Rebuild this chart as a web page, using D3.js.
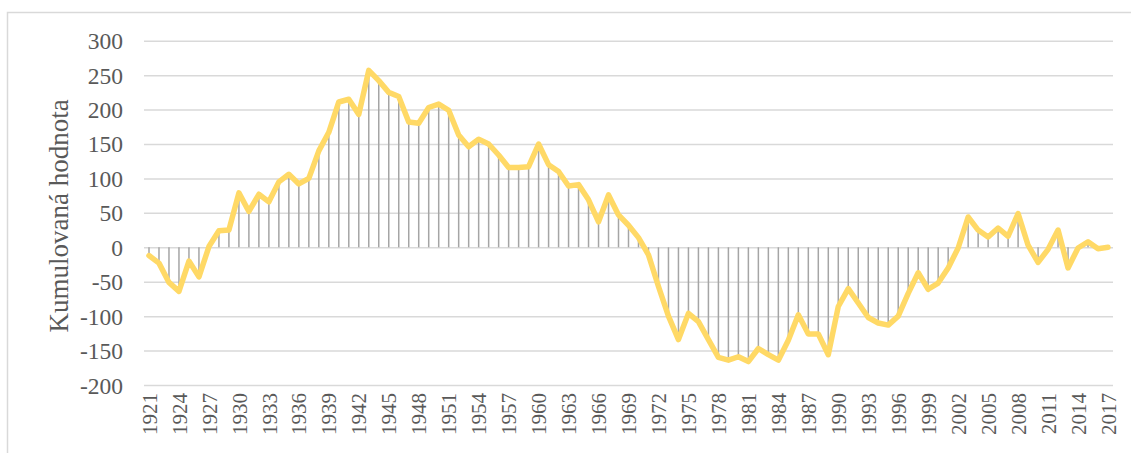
<!DOCTYPE html>
<html>
<head>
<meta charset="utf-8">
<script src="https://cdn.jsdelivr.net/npm/d3@7"></script>
<style>
  body { margin: 0; background: #fff; }
  text { font-family: "Liberation Serif", "Times New Roman", serif; fill: #595959; }
</style>
</head>
<body>
<div id="chart"></div>
<script>
// years on the category axis
var years = d3.range(1921, 2018);

// cumulative value per year
var values = [
  -12, -23, -51, -64, -20, -43, 1, 24, 25, 79,
  52, 77, 66, 95, 106, 92, 100, 140, 167, 211,
  215, 193, 257, 242, 225, 219, 182, 180, 203, 208,
  199, 163, 146, 157, 150, 134, 116, 116, 117, 150,
  120, 110, 89, 91, 69, 37, 76, 47, 32, 14,
  -11, -57, -100, -134, -96, -108, -134, -160, -164, -159,
  -166, -147, -156, -164, -135, -98, -126, -126, -156, -86,
  -60, -81, -102, -110, -113, -100, -67, -37, -61, -52,
  -30, -1, 44, 25, 15, 28, 16, 49, 3, -22,
  -3, 25, -30, -1, 8, -2, 0
];

// labelled years (every third category)
var tickYears = [1921, 1924, 1927, 1930, 1933, 1936, 1939, 1942, 1945, 1948, 1951,
  1954, 1957, 1960, 1963, 1966, 1969, 1972, 1975, 1978, 1981, 1984, 1987, 1990,
  1993, 1996, 1999, 2002, 2005, 2008, 2011, 2014, 2017];

var yTicks = [-200, -150, -100, -50, 0, 50, 100, 150, 200, 250, 300];

var data = years.map(function(d, i) { return {year: d, value: values[i]}; });

var W = 1131, H = 453;
var plot = {left: 144, right: 1113, top: 40.7, bottom: 385};

var svg = d3.select("#chart").append("svg")
    .attr("width", W)
    .attr("height", H);

svg.append("rect").attr("width", W).attr("height", H).attr("fill", "#fff");

// chart area border (only left and top edges are visible)
svg.append("rect")
    .attr("x", 7.5).attr("y", 12.5)
    .attr("width", W + 20).attr("height", H + 20)
    .attr("fill", "none")
    .attr("stroke", "#D9D9D9")
    .attr("stroke-width", 1.5);

var x = d3.scaleBand().domain(years).range([plot.left, plot.right]);
var y = d3.scaleLinear().domain([-200, 300]).range([plot.bottom, plot.top]);

function cx(d) { return x(d) + x.bandwidth() / 2; }

// horizontal gridlines
svg.append("g")
    .attr("transform", "translate(" + plot.left + ",0)")
    .call(d3.axisLeft(y).tickValues(yTicks).tickSize(-(plot.right - plot.left)).tickFormat(""))
    .call(function(g) { g.select(".domain").remove(); })
    .selectAll("line")
    .attr("stroke", "#D9D9D9")
    .attr("stroke-width", 1.5);

// y labels (plain hyphen for negatives, like the original)
svg.append("g")
    .attr("transform", "translate(123,0)")
    .call(d3.axisLeft(y).tickValues(yTicks).tickSize(0).tickPadding(0)
      .tickFormat(function(d) { return String(d); }))
    .call(function(g) { g.select(".domain").remove(); })
    .selectAll("text")
    .style("font-size", "23.5px")
    .attr("dy", "0.34em")
    .style("font-family", "'Liberation Serif', 'Times New Roman', serif")
    .style("fill", "#595959");

// x labels, rotated
svg.append("g").selectAll("text")
    .data(tickYears)
  .enter().append("text")
    .attr("transform", function(d) { return "translate(" + (cx(d) + 0.5) + ",393) rotate(-90)"; })
    .attr("text-anchor", "end")
    .attr("dy", "0.34em")
    .style("font-size", "21px")
    .text(function(d) { return d; });

// drop lines
svg.append("g").selectAll("line")
    .data(data)
  .enter().append("line")
    .attr("x1", function(d) { return cx(d.year); })
    .attr("x2", function(d) { return cx(d.year); })
    .attr("y1", y(0))
    .attr("y2", function(d) { return y(d.value); })
    .attr("stroke", "#A5A5A5")
    .attr("stroke-width", 1.5);

// main line
var line = d3.line()
    .x(function(d) { return cx(d.year); })
    .y(function(d) { return y(d.value); });

svg.append("path")
    .datum(data)
    .attr("fill", "none")
    .attr("stroke", "#FFD966")
    .attr("stroke-width", 5.5)
    .attr("stroke-linejoin", "round")
    .attr("stroke-linecap", "round")
    .attr("d", line);

// axis title
svg.append("text")
    .attr("transform", "translate(68," + ((plot.top + plot.bottom) / 2 + 3) + ") rotate(-90)")
    .attr("text-anchor", "middle")
    .style("font-size", "27px")
    .text("Kumulovaná hodnota");
</script>
</body>
</html>
